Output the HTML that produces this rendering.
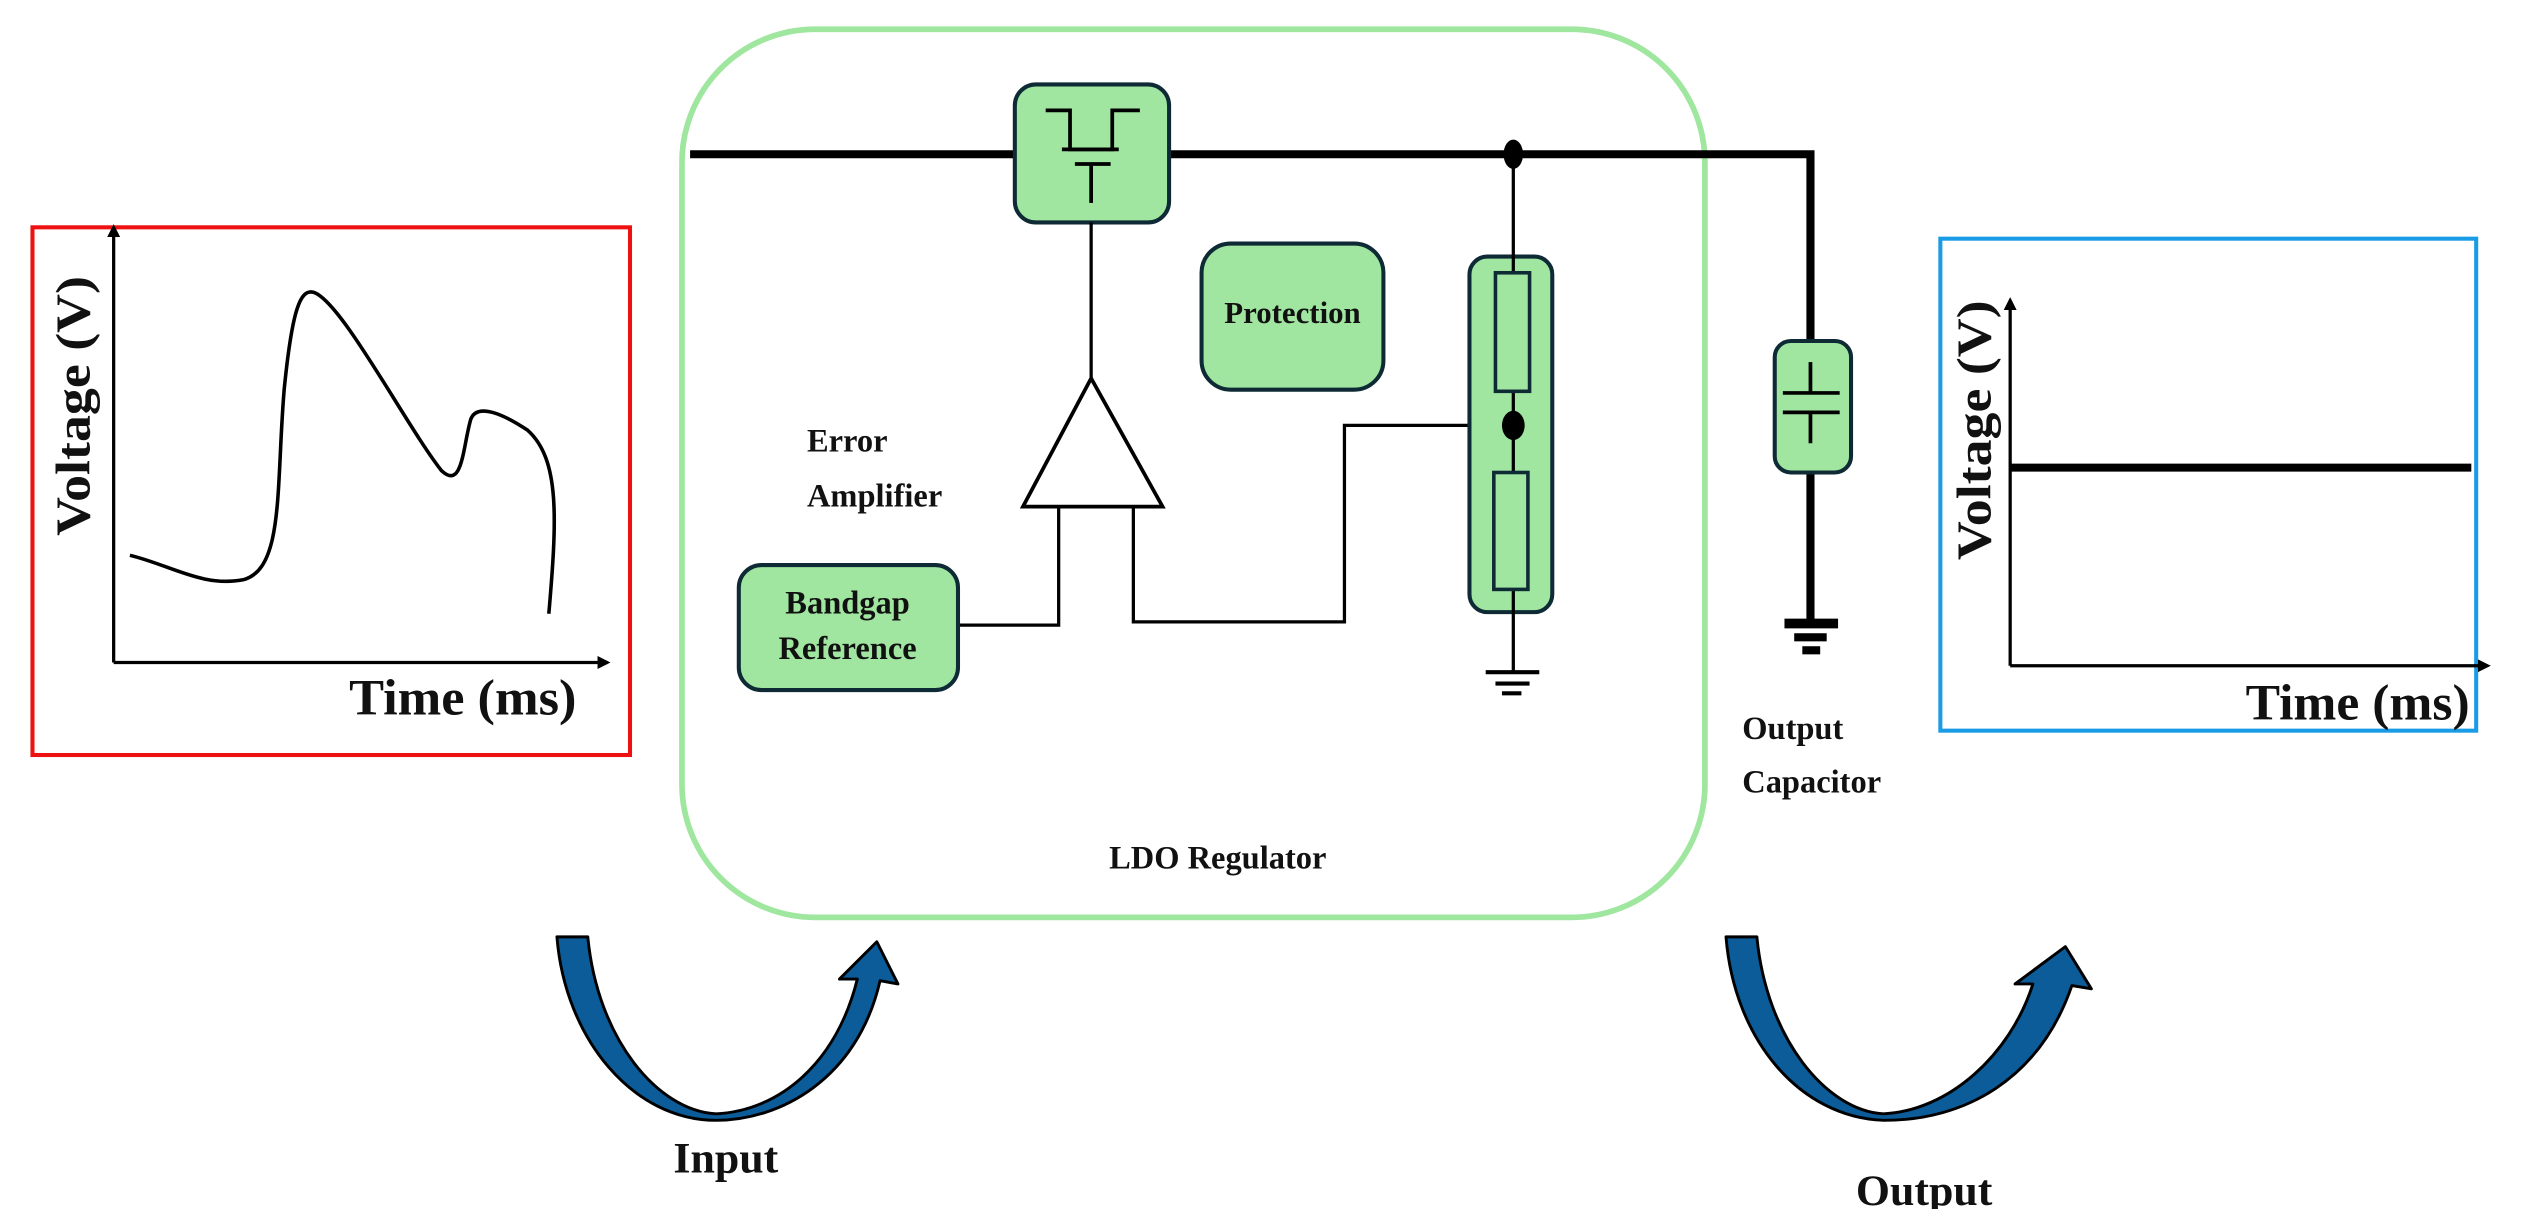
<!DOCTYPE html>
<html><head><meta charset="utf-8"><style>
html,body{margin:0;padding:0;background:#fff;}
svg{display:block;}
text{font-family:"Liberation Serif",serif;font-weight:bold;fill:#111;}
</style></head><body>
<svg width="2546" height="1209" viewBox="0 0 1568 744.6" preserveAspectRatio="none" xmlns="http://www.w3.org/2000/svg">
<defs>
<marker id="ah" markerWidth="8" markerHeight="8" refX="6" refY="4" orient="auto" markerUnits="userSpaceOnUse"><path d="M0,0 L8,4 L0,8 Z" fill="#000"/></marker>
</defs>
<!-- Left chart -->
<rect x="20" y="140" width="368" height="325" fill="none" stroke="#ee1111" stroke-width="2.5"/>
<line x1="70" y1="408" x2="70" y2="140" stroke="#000" stroke-width="2" marker-end="url(#ah)"/>
<line x1="70" y1="408" x2="374" y2="408" stroke="#000" stroke-width="2" marker-end="url(#ah)"/>
<path d="M80,342 C105,348 125,362 150,357 C175,350 170,300 175,240 C180,190 185,178 193,180 C210,185 250,262 272,290 C285,302 285,275 290,258 C294,248 310,255 325,265 C345,283 343,320 338,378" fill="none" stroke="#000" stroke-width="2.2"/>
<text x="0" y="0" font-size="30" textLength="160" lengthAdjust="spacingAndGlyphs" transform="translate(55,330) rotate(-90)">Voltage (V)</text>
<text x="215" y="440" font-size="31" textLength="140" lengthAdjust="spacingAndGlyphs">Time (ms)</text>

<!-- LDO box -->
<rect x="420" y="18" width="630" height="547" rx="82" fill="none" stroke="#9fe69f" stroke-width="3.5"/>
<polyline points="425,95 1115,95 1115,210" fill="none" stroke="#000" stroke-width="5"/>
<!-- transistor -->
<rect x="625" y="52" width="95" height="85" rx="13" fill="#a0e6a0" stroke="#0e2a35" stroke-width="2.5"/>
<polyline points="644,68 659,68 659,92 685,92 685,68 702,68" fill="none" stroke="#000" stroke-width="2.3"/>
<line x1="654" y1="92" x2="689" y2="92" stroke="#000" stroke-width="2.3"/>
<line x1="662" y1="101" x2="684" y2="101" stroke="#000" stroke-width="2.3"/>
<line x1="672" y1="101" x2="672" y2="125" stroke="#000" stroke-width="2.3"/>
<line x1="672" y1="137" x2="672" y2="233" stroke="#000" stroke-width="2"/>
<!-- amplifier -->
<polygon points="672,233 630,312 716,312" fill="#fff" stroke="#000" stroke-width="2.3"/>
<polyline points="590,385 652,385 652,312" fill="none" stroke="#000" stroke-width="2"/>
<polyline points="698,312 698,383 828,383 828,262 932,262" fill="none" stroke="#000" stroke-width="2"/>
<text x="497" y="278" font-size="20">Error</text>
<text x="497" y="312" font-size="20">Amplifier</text>
<!-- Bandgap -->
<rect x="455" y="348" width="135" height="77" rx="14" fill="#a0e6a0" stroke="#0e2a35" stroke-width="2.5"/>
<text x="522" y="378" font-size="20" text-anchor="middle">Bandgap</text>
<text x="522" y="406" font-size="20" text-anchor="middle">Reference</text>
<!-- Protection -->
<rect x="740" y="150" width="112" height="90" rx="18" fill="#a0e6a0" stroke="#0e2a35" stroke-width="2.5"/>
<text x="796" y="199" font-size="19" text-anchor="middle">Protection</text>
<!-- resistor column -->
<rect x="905" y="158" width="51" height="219" rx="11" fill="#a0e6a0" stroke="#0e2a35" stroke-width="2.5"/>
<line x1="932" y1="95" x2="932" y2="415" stroke="#000" stroke-width="2"/>
<rect x="921" y="168" width="21" height="73" fill="#a0e6a0" stroke="#0e2a35" stroke-width="2.2"/>
<rect x="920" y="291" width="21" height="72" fill="#a0e6a0" stroke="#0e2a35" stroke-width="2.2"/>
<ellipse cx="932" cy="95" rx="6" ry="9" fill="#000"/>
<ellipse cx="932" cy="262" rx="7" ry="9" fill="#000"/>
<line x1="915" y1="414" x2="948" y2="414" stroke="#000" stroke-width="2.5"/>
<line x1="921" y1="421" x2="942" y2="421" stroke="#000" stroke-width="2.5"/>
<line x1="925" y1="427" x2="937" y2="427" stroke="#000" stroke-width="2.5"/>
<text x="750" y="535" font-size="20" text-anchor="middle">LDO Regulator</text>

<!-- output capacitor -->
<line x1="1115" y1="290" x2="1115" y2="384" stroke="#000" stroke-width="5"/>
<rect x="1093" y="210" width="47" height="81" rx="10" fill="#a0e6a0" stroke="#0e2a35" stroke-width="2.5"/>
<line x1="1115" y1="223" x2="1115" y2="242" stroke="#000" stroke-width="2.3"/>
<line x1="1098" y1="242" x2="1133" y2="242" stroke="#000" stroke-width="2.3"/>
<line x1="1098" y1="254" x2="1133" y2="254" stroke="#000" stroke-width="2.3"/>
<line x1="1115" y1="254" x2="1115" y2="273" stroke="#000" stroke-width="2.3"/>
<rect x="1099" y="381" width="33" height="6" fill="#000"/>
<rect x="1105" y="390" width="20" height="5" fill="#000"/>
<rect x="1110" y="398" width="11" height="5" fill="#000"/>
<text x="1073" y="455" font-size="20">Output</text>
<text x="1073" y="488" font-size="20">Capacitor</text>

<!-- Right chart -->
<rect x="1195" y="147" width="330" height="303" fill="none" stroke="#1a9be6" stroke-width="2.5"/>
<line x1="1238" y1="410" x2="1238" y2="185" stroke="#000" stroke-width="2" marker-end="url(#ah)"/>
<line x1="1238" y1="410" x2="1532" y2="410" stroke="#000" stroke-width="2" marker-end="url(#ah)"/>
<line x1="1238" y1="288" x2="1522" y2="288" stroke="#000" stroke-width="5"/>
<text x="0" y="0" font-size="30" textLength="160" lengthAdjust="spacingAndGlyphs" transform="translate(1226,345) rotate(-90)">Voltage (V)</text>
<text x="1383" y="443" font-size="31" textLength="138" lengthAdjust="spacingAndGlyphs">Time (ms)</text>

<!-- Input arrow -->
<path d="M343,577 L362,577 C368,640 405,684 441,686 C480,684 515,655 528,603 L517,603 L540,580 L553,606 L542,604 C528,665 480,690 441,690 C390,690 348,640 343,577 Z" fill="#0b5c99" stroke="#000" stroke-width="1.8" stroke-linejoin="round"/>
<text x="447" y="722" font-size="27" text-anchor="middle">Input</text>
<!-- Output arrow -->
<path d="M1063,577 L1082,577 C1088,640 1125,684 1160,686 C1200,684 1238,650 1252,606 L1241,606 L1272,583 L1288,609 L1276,607 C1256,665 1210,690 1160,690 C1108,688 1068,640 1063,577 Z" fill="#0b5c99" stroke="#000" stroke-width="1.8" stroke-linejoin="round"/>
<text x="1185" y="742" font-size="27" text-anchor="middle">Output</text>
</svg>
</body></html>
